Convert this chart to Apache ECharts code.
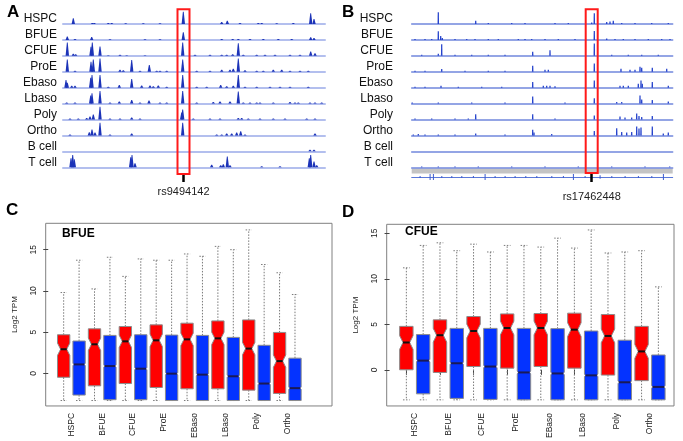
<!DOCTYPE html>
<html><head><meta charset="utf-8">
<script src="https://cdn.jsdelivr.net/npm/echarts@6/dist/echarts.min.js"></script>
<style>html,body{margin:0;padding:0;background:#fff}#c{width:683px;height:441px}</style>
</head><body><div id="c"></div>
<script>
// ================= DATA =================
const trackNames = ['HSPC','BFUE','CFUE','ProE','Ebaso','Lbaso','Poly','Ortho','B cell','T cell'];
const snpA = 'rs9494142', snpB = 'rs17462448';
const snpPosA = 120.5, snpPosB = 180;      // window positions (A: 0-262, B: 0-261)
// Panel A peaks: [position, signal]
const aHSPC  = [[10.3,5.7],[29.3,1],[31.3,1],[45.3,1],[48.7,1],[62.7,0.8],[80.3,0.8],[97,0.8],[120.3,12.3],[158.7,2],[164.3,3.3],[177,1],[195.3,1],[198.7,1],[213.7,0.8],[230.3,1],[247.7,10.7],[251,5]];
const aBFUE  = [[4.3,3.3],[12,1],[28.7,3],[47,0.7],[82,0.7],[97,0.7],[120.3,7.7],[158.7,1],[169.7,1],[175.3,1],[187,1],[200.3,1],[215.3,1],[228.7,1],[247.7,2.7],[251,2]];
const aCFUE  = [[4.3,13.3],[10.3,2],[12.7,1.5],[28,9],[29.3,13.3],[37,9.3],[45.3,0.7],[57,1],[63.7,0.7],[82,0.7],[119.7,13.3],[132,1],[147,1],[158.7,1],[163.7,1],[169.7,1.5],[175.3,12.7],[180.3,1],[193.7,1],[202,1],[212,1],[227,1],[237,1],[247.7,4.3],[252,2.7]];
const aProE  = [[4.3,12.3],[12,1],[28,10],[30.3,12.3],[37,13.3],[57,2],[60.3,1.5],[68.7,11.7],[77,1],[86.3,6.7],[93.7,1],[97,1],[103.7,1],[119.7,12.3],[133.7,1],[147,1],[158.7,2],[167,2],[170.3,3],[175.3,13.3],[182,1.5],[193.7,1],[200.3,1],[210.3,2],[218.7,2],[227,1],[237,1],[245.3,1]];
const aEbaso = [[3,7.7],[4.3,5],[8.7,2],[12,2],[27.7,10],[29,12.7],[37,12.7],[45.3,1],[56.3,2.7],[68.7,8.7],[78.7,2.3],[87,2.3],[90.3,1.5],[95.3,2.3],[103.7,1],[119.7,12.7],[133.7,1],[143.7,1],[157.7,2.7],[163.7,1.5],[170.3,2],[175.3,12.7],[182,1],[193.7,1],[207,1],[217,1],[227,1],[245.3,1]];
const aLbaso = [[3.7,1],[12,1],[27.7,8],[29,10.3],[37,12.7],[47,1],[56.3,2],[68.7,3.7],[77,1],[86,3],[97,1],[103.7,1],[119.7,12.7],[133.7,1],[150.3,1.5],[157,2],[167,2],[175.3,12],[180.3,1],[187,1],[193.7,1],[197,1],[210.3,1],[227,1.5],[232,1],[235.3,1],[247,1],[252,1],[258.7,1]];
const aPoly  = [[7,1],[15.3,1],[23.7,1.5],[27,3],[30.3,5],[37,12.7],[47,1],[57,1],[68.7,2],[77,1],[118.7,7],[119.7,10],[130.3,1],[147,1],[157,1],[175.3,1.5],[178.7,1.5],[185.3,1],[197,1],[210.3,1],[222,1],[243.7,1],[252,1]];
const aOrtho = [[7,1],[26.3,3.3],[29,6],[32,3],[37,12.7],[47,1],[68.7,2],[119.7,12.7],[153.7,1],[158.7,1],[163.7,2],[168.7,2],[173.7,3],[177.7,4.3],[182,1],[252,2]];
const aBcell = [[247,1.5],[251,1.5]];
const aTcell = [[8,9],[9.7,12.3],[11.3,8],[67.7,10],[69,12.3],[72,4],[148.7,2.5],[157.7,2],[160.3,3],[164.3,10.7],[167,2],[198.7,1],[217,1],[246.3,9],[247.7,12.3],[251,5.7],[253.7,2]];
// Panel B peaks: [position, signal]
const bHSPC  = [[26.6,11.7],[64,3.3],[76.6,1],[100,1],[113.3,1],[143.3,1],[156.6,1],[180,1.5],[182.6,10.7],[195,2],[198.3,2.5],[201.6,3.3],[210,1],[223.3,1],[240,1],[256.6,1]];
const bBFUE  = [[3.3,1],[13.3,1],[20,1],[26.6,8.7],[29,4],[30.6,2],[43.3,1],[55,1],[63.3,1],[76.6,1],[86.6,1],[106.6,1],[113.3,1],[120,1],[133.3,1],[146.6,1],[163.3,1],[182.6,9],[195,1.5],[203.3,1],[211.6,1],[223.3,1],[236.6,1],[250,1],[258.3,1]];
const bCFUE  = [[10,1],[26.6,2],[30,11.7],[43.3,1],[60,1],[76.6,1],[93.3,1],[121,4],[138.3,5.7],[182.6,12.3],[200,1],[216.6,1],[230,1],[246.6,1]];
const bProE  = [[3.3,1],[13.3,1],[30,2.7],[53.3,1],[76.6,1],[93.3,1],[121,6],[133.3,2],[136.6,2],[182.6,8.3],[209.3,3],[218.3,2],[223.3,2],[228.3,5],[230,4],[240.6,4],[255,3]];
const bEbaso = [[3.3,1],[13.3,1],[29.3,2],[46.6,1],[70,1],[90,1],[121,5.7],[131.6,2],[135,2],[138.3,2],[143.3,1.5],[182.6,7.3],[208.3,2],[211.6,2],[216.6,2],[226.6,4],[229.3,7.3],[230.6,4],[240.6,5.7],[256.6,2]];
const bLbaso = [[0.5,1],[26.6,1],[60,1],[93.3,1],[121,7],[153.3,1],[182.6,5.3],[205,1.5],[210,1.5],[228.3,8],[230,4],[240.6,3.5],[256.6,2]];
const bPoly  = [[3.3,1],[20,1],[43.3,1],[56.6,1],[64,5.3],[121,5.3],[143.3,1],[182.6,4],[208.3,3],[213.3,2],[220,2],[225,6],[227.3,3.5],[230,2.5],[240.6,3.5]];
const bOrtho = [[1.6,1],[6.6,1.5],[13.3,1],[26.6,1],[43.3,1],[64,2],[93.3,1],[121,5.7],[122.3,3],[140,1.5],[182.6,4.5],[205,7.3],[210,3.5],[215,3],[220,3.5],[225,9],[227.3,7],[229.3,8],[240.6,9],[251.6,2],[256.6,3]];
const bBcell = [];
const bTcell = [[10,0.7],[26.6,0.7],[43.3,0.7],[66.6,0.7],[100,0.7],[133.3,0.7],[166.6,0.7],[200,0.7],[233.3,0.7],[258,0.7]];
// Panel B gene model exons: [position, half-height]
const bExons = [[8.3,0.35],[18.3,1],[21.6,1],[30,0.35],[40,0.35],[50,0.35],[61.6,0.35],[73.3,1],[83.3,0.35],[93.3,0.35],[103.3,0.35],[114,0.35],[125,0.35],[140,0.35],[151.6,0.35],[161.6,1],[173.3,0.35],[188.3,0.6],[200,0.35],[213.3,0.35],[226.6,0.35],[240,0.35],[251.6,1]];

// Panels C/D: box statistics per cell type [whiskerLow, Q1, median, Q3, whiskerHigh]
const boxCats = ['HSPC','BFUE','CFUE','ProE','EBaso','LBaso','Poly','Ortho'];
const cTitle = 'BFUE', dTitle = 'CFUE';
const cRed = [[-3.3,-0.48,2.92,4.68,9.8],[-3.3,-1.52,3.52,5.4,10.24],[-3.3,-1.24,3.88,5.68,11.76],[-3.3,-1.72,4.0,5.88,13.72],[-3.3,-1.88,4.12,6.08,14.48],[-3.3,-1.88,4.24,6.36,15.4],[-3.3,-2.04,3.0,6.48,17.4],[-3.3,-2.44,1.48,4.96,12.2]];
const cBlue = [[-3.3,-2.64,1.08,3.92,13.72],[-3.3,-3.2,0.88,4.6,14.08],[-3.3,-3.2,0.56,4.68,13.88],[-3.3,-3.3,-0.04,4.64,13.72],[-3.3,-3.3,-0.16,4.6,14.2],[-3.3,-3.3,-0.36,4.36,15.0],[-3.3,-3.3,-1.24,3.4,13.2],[-3.3,-3.3,-1.8,1.84,9.56]];
const dRed = [[-3.3,0.0,3.0,4.77,11.2],[-3.3,-0.29,3.8,5.49,13.95],[-3.3,0.36,4.26,5.85,13.8],[-3.3,0.18,4.59,6.14,13.66],[-3.3,0.36,4.59,6.18,13.48],[-3.3,0.18,4.41,6.22,13.37],[-3.3,-0.58,3.72,6.07,12.83],[-3.3,-1.19,2.02,4.77,13.08]];
const dBlue = [[-3.3,-2.64,1.01,3.87,13.66],[-3.3,-3.14,0.72,4.55,13.08],[-3.3,-3.25,0.36,4.55,12.94],[-3.3,-3.3,-0.29,4.55,13.66],[-3.3,-3.3,-0.4,4.52,14.46],[-3.3,-3.3,-0.61,4.26,15.36],[-3.3,-3.3,-1.37,3.25,12.94],[-3.3,-3.3,-1.88,1.63,9.11]];
const notchRed = 0.75, notchBlue = 0.15;
const yTicks = [0, 5, 10, 15];

// ================= CHART =================
const FONT = "'Liberation Sans', Arial, Helvetica, sans-serif";
const chart = echarts.init(document.getElementById('c'), null, {renderer: 'canvas', width: 683, height: 441});
const grids = [], xAxes = [], yAxes = [], series = [];
const hidden = {show: false};

function peakRenderer(hw, topFrac, color) {
  return function (params, api) {
    const x = api.value(0), h = api.value(1);
    const pts = [api.coord([x - hw, 0]), api.coord([x - hw * topFrac, h]), api.coord([x + hw * topFrac, h]), api.coord([x + hw, 0])];
    return {type: 'polygon', shape: {points: pts}, style: {fill: color}};
  };
}

function addTracks(tracks, x0, width, span, peakColor, baseColor, baseWidth, hw, topFrac, labelRight) {
  tracks.forEach((peaks, i) => {
    const baseline = 24 + 15.92 * i;
    const gi = grids.length;
    // grid spans 14px above the baseline and 4px below it, so the track name centres 5px above the baseline
    grids.push({left: x0, top: baseline - 14, width: width, height: 18});
    xAxes.push({gridIndex: gi, type: 'value', min: 0, max: span, axisLine: {show: true, onZero: true, lineStyle: {color: baseColor, width: baseWidth}}, axisTick: hidden, axisLabel: hidden, splitLine: hidden});
    yAxes.push({gridIndex: gi, type: 'value', min: -4, max: 14, axisLine: hidden, axisTick: hidden, axisLabel: hidden, splitLine: hidden,
      name: trackNames[i], nameLocation: 'middle', nameRotate: 0, nameGap: x0 - labelRight,
      nameTextStyle: {fontFamily: FONT, fontSize: 12, color: '#111', align: 'right', verticalAlign: 'middle'}});
    series.push({type: 'custom', xAxisIndex: gi, yAxisIndex: gi, data: peaks, clip: false, silent: true, renderItem: peakRenderer(hw, topFrac, peakColor)});
  });
}

addTracks([aHSPC, aBFUE, aCFUE, aProE, aEbaso, aLbaso, aPoly, aOrtho, aBcell, aTcell], 63, 262, 262, '#1c33b8', '#b3bfee', 2, 1.7, 0.25, 57);
addTracks([bHSPC, bBFUE, bCFUE, bProE, bEbaso, bLbaso, bPoly, bOrtho, bBcell, bTcell], 411.7, 261, 261, '#2643cc', '#7288dd', 1.5, 0.75, 0.8, 393);

// grey band + gene model under panel B
(function () {
  let gi = grids.length;
  grids.push({left: 411.7, top: 168.5, width: 261, height: 5, show: true, backgroundColor: '#c4c4c4', borderWidth: 0});
  xAxes.push({gridIndex: gi, type: 'value', min: 0, max: 261, show: false});
  yAxes.push({gridIndex: gi, type: 'value', min: 0, max: 1, show: false});
  gi = grids.length;
  grids.push({left: 411.7, top: 174, width: 261, height: 6});
  xAxes.push({gridIndex: gi, type: 'value', min: 0, max: 261, axisLine: {show: true, onZero: true, lineStyle: {color: '#5a78d8', width: 1}}, axisTick: hidden, axisLabel: hidden, splitLine: hidden});
  yAxes.push({gridIndex: gi, type: 'value', min: -1, max: 1, show: false});
  series.push({type: 'custom', xAxisIndex: gi, yAxisIndex: gi, data: bExons, clip: false, silent: true,
    renderItem: (p, api) => {
      const a = api.coord([api.value(0) - 0.4, api.value(1)]), b = api.coord([api.value(0) + 0.4, -api.value(1)]);
      return {type: 'rect', shape: {x: a[0], y: a[1], width: Math.max(1, b[0] - a[0]), height: b[1] - a[1]}, style: {fill: '#3a5ad0'}};
    }});
})();

// SNP highlight overlays
function addSnp(x0, width, span, top, height, pos, name, offset, tickLen, margin) {
  const gi = grids.length;
  grids.push({left: x0, top: top, width: width, height: height});
  xAxes.push({gridIndex: gi, type: 'value', min: 0, max: span, offset: offset, axisLine: hidden, splitLine: hidden,
    axisTick: {show: true, customValues: [pos], length: tickLen, lineStyle: {color: '#000', width: 2.5}},
    axisLabel: {show: true, customValues: [pos], formatter: () => name, margin: margin, fontFamily: FONT, fontSize: 11, color: '#222'}});
  yAxes.push({gridIndex: gi, type: 'value', min: 0, max: 1, show: false});
  series.push({type: 'custom', xAxisIndex: gi, yAxisIndex: gi, data: [[pos]], clip: false, silent: true, z: 10,
    renderItem: (p, api) => {
      const a = api.coord([api.value(0) - 6, 1]), b = api.coord([api.value(0) + 6, 0]);
      return {type: 'rect', shape: {x: a[0], y: a[1], width: b[0] - a[0], height: b[1] - a[1]}, style: {fill: 'none', stroke: '#ff1a1a', lineWidth: 2}};
    }});
}
addSnp(63, 262, 262, 9.3, 164.7, snpPosA, snpA, 2, 8, 10);
addSnp(411.7, 261, 261, 9.3, 163.7, snpPosB, snpB, 6, 9, 12);

// Box plots (R-style notched boxes)
function boxRenderer(color, notch, waist, medColor) {
  return function (params, api) {
    const x = api.value(0), lo = api.value(1), q1 = api.value(2), md = api.value(3), q3 = api.value(4), hi = api.value(5);
    const w = 0.4, c = (a, b) => api.coord([a, b]);
    const grey = '#7a7a7a';
    const pts = [c(x - w, q1), c(x - w, md - notch), c(x - w * waist, md), c(x - w, md + notch), c(x - w, q3),
                 c(x + w, q3), c(x + w, md + notch), c(x + w * waist, md), c(x + w, md - notch), c(x + w, q1)];
    const line = (p1, p2, style) => ({type: 'line', shape: {x1: p1[0], y1: p1[1], x2: p2[0], y2: p2[1]}, style: style});
    const dash = {stroke: grey, lineWidth: 1, lineDash: [1.5, 1.5]};
    return {type: 'group', children: [
      line(c(x, q3), c(x, hi), dash),
      line(c(x, q1), c(x, lo), dash),
      line(c(x - w / 2, hi), c(x + w / 2, hi), dash),
      line(c(x - w / 2, lo), c(x + w / 2, lo), dash),
      {type: 'polygon', shape: {points: pts}, style: {fill: color, stroke: '#8c8c8c', lineWidth: 1}},
      line(c(x - w * waist, md), c(x + w * waist, md), {stroke: medColor, lineWidth: 2})
    ]};
  };
}

function addBoxPanel(left, top, width, height, xmin, xmax, ymin, ymax, red, blue) {
  const gi = grids.length;
  grids.push({left: left, top: top, width: width, height: height, show: true, borderColor: '#808080', borderWidth: 1, backgroundColor: 'transparent'});
  const tickPos = [], labPos = [];
  boxCats.forEach((_, i) => { tickPos.push(2 * i + 1, 2 * i + 2); labPos.push(2 * i + 1.5); });
  xAxes.push({gridIndex: gi, type: 'value', min: xmin, max: xmax, axisLine: hidden, splitLine: hidden,
    axisTick: {show: true, customValues: tickPos, length: 5, lineStyle: {color: '#444', width: 1}},
    axisLabel: {show: true, customValues: labPos, rotate: 90, margin: 7, fontFamily: FONT, fontSize: 8.5, color: '#222',
      formatter: v => boxCats[Math.round((v - 1.5) / 2)]}});
  yAxes.push({gridIndex: gi, type: 'value', min: ymin, max: ymax, axisLine: hidden, splitLine: hidden,
    axisTick: {show: true, customValues: yTicks, length: 5, lineStyle: {color: '#444', width: 1}},
    axisLabel: {show: true, customValues: yTicks, rotate: 90, margin: 8, fontFamily: FONT, fontSize: 8.5, color: '#222'},
    name: 'Log2 TPM', nameLocation: 'middle', nameRotate: 90, nameGap: 27, nameTextStyle: {fontFamily: FONT, fontSize: 8, color: '#222'}});
  series.push({type: 'custom', xAxisIndex: gi, yAxisIndex: gi, silent: true, clip: false,
    data: red.map((s, i) => [2 * i + 1].concat(s)), renderItem: boxRenderer('#ff0000', notchRed, 0.5, '#111')});
  series.push({type: 'custom', xAxisIndex: gi, yAxisIndex: gi, silent: true, clip: false,
    data: blue.map((s, i) => [2 * i + 2].concat(s)), renderItem: boxRenderer('#0433ff', notchBlue, 0.85, '#1a1a55')});
}
addBoxPanel(45.7, 223.3, 286.3, 184.7, -0.165, 18.4, -3.96, 18.2, cRed, cBlue);
addBoxPanel(386.7, 224.3, 287.3, 184, -0.17, 16.93, -3.97, 15.98, dRed, dBlue);

const panelTitle = (t, l, tp, fs) => ({text: t, left: l, top: tp, padding: 0, textStyle: {fontFamily: FONT, fontSize: fs, fontWeight: 'bold', color: '#000'}});
const titles = [
  panelTitle('A', 7, 4, 17), panelTitle('B', 342, 4, 17), panelTitle('C', 6, 202, 17), panelTitle('D', 342, 204, 17),
  panelTitle(cTitle, 62, 228, 12), panelTitle(dTitle, 405, 226, 12)
];

chart.setOption({
  animation: false,
  backgroundColor: '#ffffff',
  title: titles,
  grid: grids,
  xAxis: xAxes,
  yAxis: yAxes,
  series: series
});
</script></body></html>
